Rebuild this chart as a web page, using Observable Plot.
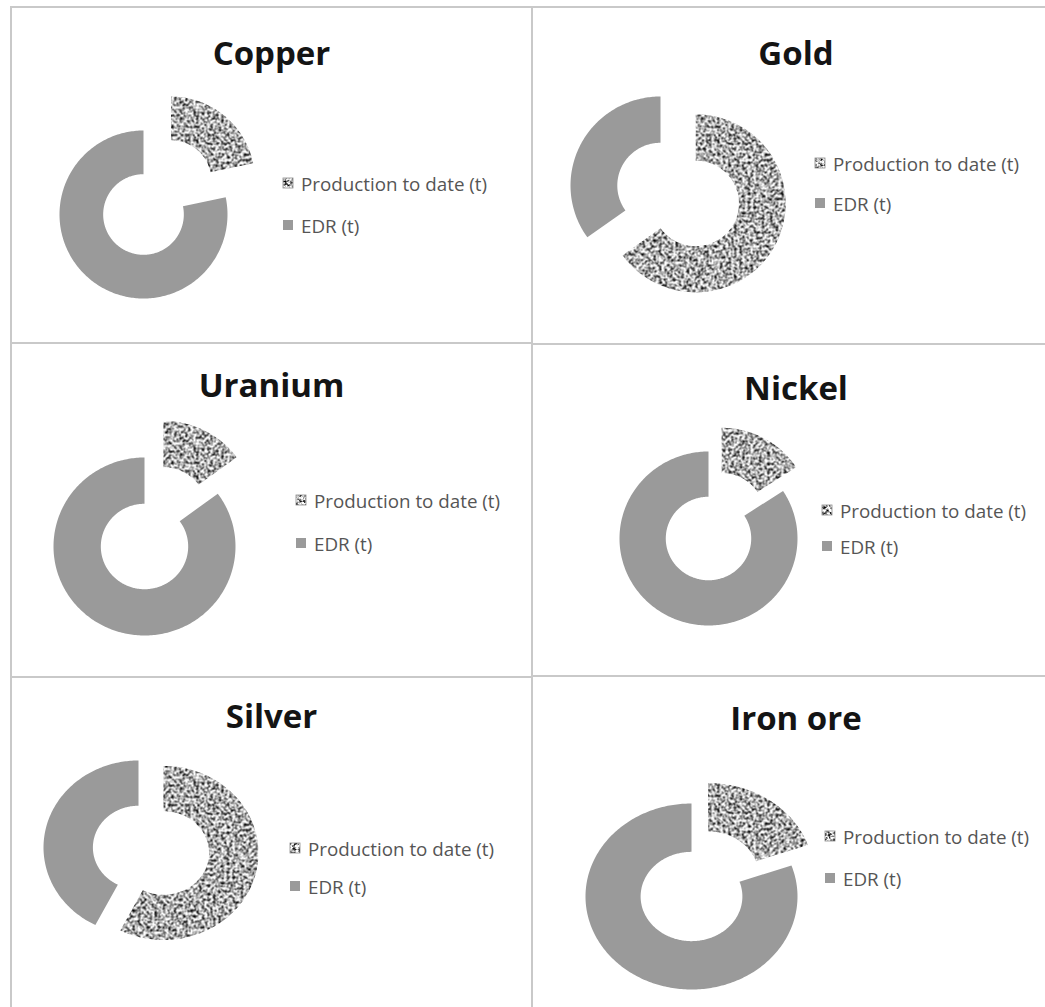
<!DOCTYPE html>
<html>
<head>
<meta charset="utf-8">
<script src="https://cdn.jsdelivr.net/npm/d3@7"></script>
<script src="https://cdn.jsdelivr.net/npm/@observablehq/plot@0.6"></script>
<style>
  html, body { margin: 0; padding: 0; background: #fff; }
  body { width: 1045px; height: 1007px; position: relative; overflow: hidden; font-family: "Open Sans", sans-serif; }
  .panel { position: absolute; overflow: visible; }
  .frame { position: absolute; border: 2px solid #c9c9c9; box-sizing: border-box; pointer-events: none; }
  .panel svg { position: absolute; left: 0; top: 0; overflow: visible; }
</style>
</head>
<body>
<svg width="0" height="0" style="position:absolute">
  <defs>
    <filter id="grain" filterUnits="userSpaceOnUse" x="0" y="0" width="700" height="500" color-interpolation-filters="sRGB">
      <feTurbulence type="fractalNoise" baseFrequency="0.36" numOctaves="3" seed="5"/>
      <feColorMatrix type="matrix" values="1 0 0 0 0  1 0 0 0 0  1 0 0 0 0  0 0 0 0 1"/>
      <feComponentTransfer>
        <feFuncR type="linear" slope="2.7" intercept="-0.66"/>
        <feFuncG type="linear" slope="2.7" intercept="-0.66"/>
        <feFuncB type="linear" slope="2.7" intercept="-0.66"/>
      </feComponentTransfer>
      <feGaussianBlur stdDeviation="0.35"/>
    </filter>
    <pattern id="granite" patternUnits="userSpaceOnUse" width="700" height="500">
      <rect width="700" height="500" fill="#fff" filter="url(#grain)"/>
    </pattern>
  </defs>
</svg>
<script>
// ---- data (shares of each slice, %) ----
const minerals = ["Copper", "Gold", "Uranium", "Nickel", "Silver", "Iron ore"];
const productionToDate = [21.7, 65.1, 14.9, 15.8, 57.5, 19.6];
const edr = [78.3, 34.9, 85.1, 84.2, 42.5, 80.4];
const seriesNames = ["Production to date (t)", "EDR (t)"];

// ---- layout (pixels, per panel) ----
const panelBoxes = [
  {x: 10,  y: 6,   w: 523, h: 338},
  {x: 531, y: 6,   w: 530, h: 339},
  {x: 10,  y: 342, w: 523, h: 336},
  {x: 531, y: 343, w: 530, h: 334},
  {x: 10,  y: 676, w: 523, h: 345},
  {x: 531, y: 675, w: 530, h: 345}
];
const donutGeom = [
  {cx: 133, cy: 208, rx: 84,  ry: 84, explode: 0.52},
  {cx: 129, cy: 179, rx: 90,  ry: 89, explode: 0.44},
  {cx: 134, cy: 204, rx: 91,  ry: 89, explode: 0.46},
  {cx: 177, cy: 195, rx: 89,  ry: 87, explode: 0.31},
  {cx: 128, cy: 171, rx: 95,  ry: 87, explode: 0.27},
  {cx: 160, cy: 221, rx: 106, ry: 93, explode: 0.27}
];
const textGeom = [
  {titleY: 59, legX: 273, leg1: 185, leg2: 227},
  {titleY: 59, legX: 284, leg1: 165, leg2: 205},
  {titleY: 55, legX: 286, leg1: 166, leg2: 209},
  {titleY: 57, legX: 291, leg1: 175, leg2: 211},
  {titleY: 52, legX: 280, leg1: 180, leg2: 218},
  {titleY: 55, legX: 294, leg1: 169, leg2: 211}
];
const HOLE = 0.48;
const EDR_COLOR = "#9a9a9a";
const PROD_FILL = "url(#granite)";

function ring(a0, a1, inner, ox, oy) {
  const n = Math.max(8, Math.ceil((a1 - a0) / (Math.PI / 180)));
  const pts = [];
  for (let i = 0; i <= n; i++) {
    const a = a0 + (a1 - a0) * i / n;
    pts.push({x: ox + Math.sin(a), y: oy + Math.cos(a)});
  }
  for (let i = n; i >= 0; i--) {
    const a = a0 + (a1 - a0) * i / n;
    pts.push({x: ox + inner * Math.sin(a), y: oy + inner * Math.cos(a)});
  }
  pts.push(pts[0]);
  return pts;
}

minerals.forEach((name, i) => {
  const B = panelBoxes[i], G = donutGeom[i], T = textGeom[i];
  const total = productionToDate[i] + edr[i];
  const aP = 2 * Math.PI * productionToDate[i] / total;
  const mid = aP / 2;
  const prodPts = ring(0, aP, HOLE, G.explode * Math.sin(mid), G.explode * Math.cos(mid));
  const edrPts = ring(aP, 2 * Math.PI, HOLE, 0, 0);

  const div = document.createElement("div");
  div.className = "panel";
  Object.assign(div.style, {left: B.x + "px", top: B.y + "px", width: B.w + "px", height: B.h + "px"});
  document.body.appendChild(div);

  const chart = Plot.plot({
    width: B.w,
    height: B.h,
    margin: 0,
    style: {background: "transparent", overflow: "visible"},
    x: {domain: [-1, 1], range: [G.cx - G.rx, G.cx + G.rx], axis: null},
    y: {domain: [-1, 1], range: [G.cy + G.ry, G.cy - G.ry], axis: null},
    marks: [
      Plot.line(edrPts, {x: "x", y: "y", fill: EDR_COLOR, stroke: "none", curve: "linear"}),
      Plot.line(prodPts, {x: "x", y: "y", fill: PROD_FILL, stroke: "none", curve: "linear"})
    ]
  });
  div.appendChild(chart);

  const ov = d3.select(div).append("svg")
    .attr("width", B.w).attr("height", B.h);
  ov.append("text")
    .attr("x", B.w / 2).attr("y", T.titleY)
    .attr("text-anchor", "middle")
    .attr("font-family", "'Open Sans', sans-serif")
    .attr("font-weight", 700).attr("font-size", 33)
    .attr("fill", "#141414")
    .text(name);

  const leg = [T.leg1, T.leg2];
  seriesNames.forEach((s, k) => {
    ov.append("rect")
      .attr("x", T.legX).attr("y", leg[k] - 13)
      .attr("width", 10).attr("height", 10)
      .attr("fill", k === 0 ? PROD_FILL : EDR_COLOR)
      .attr("stroke", k === 0 ? "#8a8a8a" : "none")
      .attr("stroke-width", 0.8);
    ov.append("text")
      .attr("x", T.legX + 18).attr("y", leg[k])
      .attr("font-family", "'Open Sans', sans-serif")
      .attr("font-size", 18.8)
      .attr("fill", "#555555")
      .text(s);
  });

  const frame = document.createElement("div");
  frame.className = "frame";
  Object.assign(frame.style, {left: B.x + "px", top: B.y + "px", width: B.w + "px", height: B.h + "px"});
  document.body.appendChild(frame);
});
</script>
</body>
</html>
